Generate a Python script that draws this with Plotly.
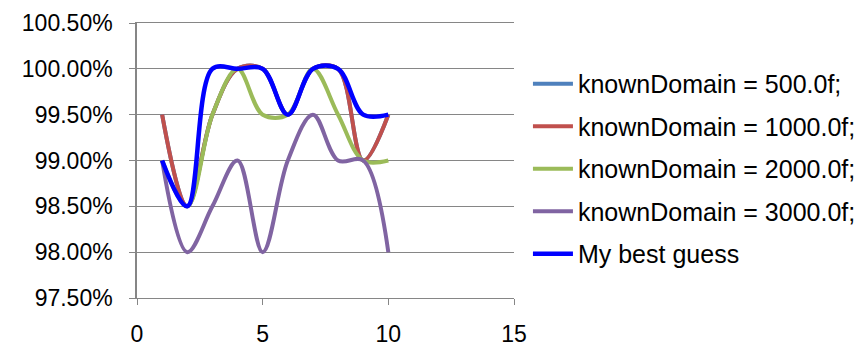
import plotly.graph_objects as go

x = [1, 2, 3, 4, 5, 6, 7, 8, 9, 10]

domain_500 = [99.5, 98.5, 99.5, 100.0, 100.0, 99.5, 100.0, 100.0, 99.0, 99.5]
domain_1000 = [99.5, 98.5, 99.5, 100.0, 100.0, 99.5, 100.0, 100.0, 99.0, 99.5]
domain_2000 = [99.0, 98.5, 99.5, 100.0, 99.5, 99.5, 100.0, 99.5, 99.0, 99.0]
domain_3000 = [99.0, 98.0, 98.5, 99.0, 98.0, 99.0, 99.5, 99.0, 99.0, 98.0]
best_guess = [99.0, 98.5, 100.0, 100.0, 100.0, 99.5, 100.0, 100.0, 99.5, 99.5]

names = ["knownDomain = 500.0f;", "knownDomain = 1000.0f;", "knownDomain = 2000.0f;",
         "knownDomain = 3000.0f;", "My best guess"]
series = [domain_500, domain_1000, domain_2000, domain_3000, best_guess]
colors = ["#4F81BD", "#C0504D", "#9BBB59", "#8064A2", "#0000FF"]

font = "Liberation Sans, Arial, sans-serif"

fig = go.Figure()
for i, (name, vals, col) in enumerate(zip(names, series, colors)):
    fig.add_trace(go.Scatter(
        x=x, y=[v / 100 for v in vals], name=name, mode="lines",
        line=dict(color=col, width=4.5 if i == 4 else 4, shape="spline", smoothing=1.0),
        legendgroup=str(i),
    ))

# page body has an 8px margin, so shift everything up/left by 8px
fig.update_layout(
    width=865, height=354,
    margin=dict(l=129, r=354, t=15, b=64),
    plot_bgcolor="white", paper_bgcolor="white",
    font=dict(family=font, size=23, color="#000000"),
    showlegend=True,
    legend=dict(x=1.037, y=0.862, xanchor="left", yanchor="top",
                traceorder="grouped", tracegroupgap=7,
                font=dict(size=25), itemwidth=40, bgcolor="rgba(0,0,0,0)"),
    xaxis=dict(range=[0, 15], tickvals=[0, 5, 10, 15], showgrid=False, zeroline=False,
               showline=True, mirror=True, linecolor="#868686", linewidth=1,
               ticks="outside", ticklen=6, tickcolor="#868686",
               tickfont=dict(size=23), ticklabelstandoff=9, automargin=False),
    yaxis=dict(range=[0.975, 1.005], tickvals=[0.975, 0.98, 0.985, 0.99, 0.995, 1.0, 1.005],
               tickformat=".2%", showgrid=True,
               gridcolor="#868686", gridwidth=1, zeroline=False, showline=True,
               linecolor="#868686", linewidth=1.5, ticks="outside", ticklen=6,
               tickcolor="#868686", tickfont=dict(size=23), ticklabelstandoff=12,
               ticklabeloverflow="allow", automargin=False),
)

fig.write_html("out.html")
